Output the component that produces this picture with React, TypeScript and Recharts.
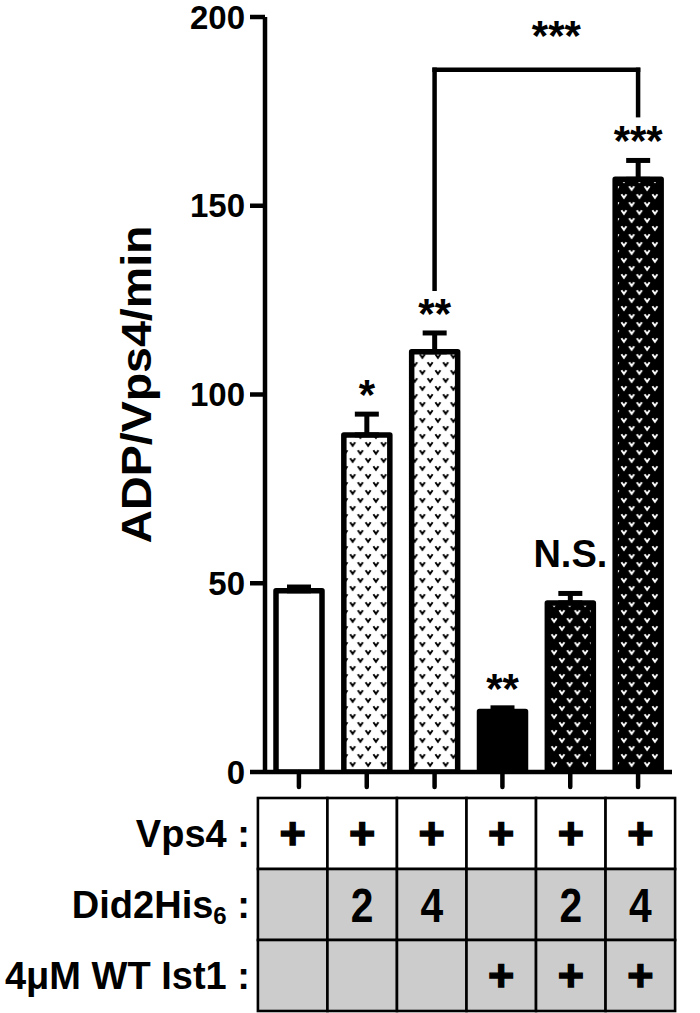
import React from 'react';
import { BarChart, Bar, XAxis, YAxis, ErrorBar, Cell, LabelList, ReferenceLine, Label } from 'recharts';

// ---------- data ----------
const categories = ['Vps4', 'Vps4+Did2 2', 'Vps4+Did2 4', 'Vps4+Ist1', 'Vps4+Ist1+Did2 2', 'Vps4+Ist1+Did2 4'];
const values = [48, 89.3, 111.3, 16, 44.8, 157];
const errors = [1, 5.5, 5, 1, 2.5, 5];
const sigLabels = ['', '*', '**', '**', 'N.S.', '***'];
const vps4Present = [true, true, true, true, true, true];
const did2Amount = [0, 2, 4, 0, 2, 4];
const ist1Present = [false, false, false, true, true, true];
const yTicks = [0, 50, 100, 150, 200];
const bracketFrom = categories[2];
const bracketTo = categories[5];
const bracketTop = 186;
const bracketLeftEnd = 128;
const bracketRightEnd = 174;
const bracketLabel = '***';

// ---------- layout / style ----------
const FONT = '"Liberation Sans", Arial, Helvetica, sans-serif';
const W = 700;
const H = 1013;
const MARGIN = { top: 17, right: 28, left: 0, bottom: 0 };
const YAXIS_W = 265;
const XAXIS_H = 241;
const PLOT_L = MARGIN.left + YAXIS_W;
const PLOT_R = W - MARGIN.right;
const PLOT_MID = (PLOT_L + PLOT_R) / 2;
const GRAY = '#cccccc';

const data = categories.map((c, i) => ({
  name: c,
  value: values[i],
  err: [0, errors[i]],
  sig: sigLabels[i],
}));

function barFill(i: number) {
  if (ist1Present[i]) return did2Amount[i] > 0 ? 'url(#dotsDark)' : '#000';
  return did2Amount[i] > 0 ? 'url(#dotsLight)' : '#fff';
}

function Mark({ x, y, color }: { x: number; y: number; color: string }) {
  return (
    <path
      d={`M${x - 2.5},${y - 1.8} L${x},${y + 1.8} L${x + 2.5},${y - 1.8}`}
      stroke={color}
      strokeWidth={1.9}
      fill="none"
    />
  );
}

function XTick(props: any) {
  const { x, y, index } = props;
  const band = (PLOT_R - PLOT_L) / categories.length;
  const scale = 1.025;
  const cellW = band * scale;
  const cx = PLOT_MID - 2 + (x - PLOT_MID) * scale;
  const left = cx - cellW / 2;
  const top = y + 26;
  const rowH = 71;
  const rowContents = [
    vps4Present[index] ? '+' : '',
    did2Amount[index] > 0 ? String(did2Amount[index]) : '',
    ist1Present[index] ? '+' : '',
  ];
  const rowFills = ['#fff', GRAY, GRAY];
  return (
    <g>
      <line x1={x} y1={y} x2={x} y2={y + 15} stroke="#000" strokeWidth={4.5} strokeLinecap="round" />
      {rowContents.map((txt, r) => {
        const cy = top + rowH * r + rowH / 2;
        return (
          <g key={r}>
            <rect x={left} y={top + rowH * r} width={cellW} height={rowH} fill={rowFills[r]} stroke="#000" strokeWidth={2.6} />
            {txt === '+' && (
              <text x={cx} y={cy + 15} textAnchor="middle" fontFamily={FONT} fontWeight="bold" fontSize={45} fill="#000" stroke="#000" strokeWidth={1.4}>
                +
              </text>
            )}
            {txt !== '+' && txt !== '' && (
              <text transform={`translate(${cx},${cy + 17}) scale(0.85,1)`} textAnchor="middle" fontFamily={FONT} fontWeight="bold" fontSize={48} fill="#000">
                {txt}
              </text>
            )}
          </g>
        );
      })}
      {index === 0 && (
        <g fontFamily={FONT} fontWeight="bold" fontSize={38} fill="#000" textAnchor="end">
          <text x={left - 8} y={top + rowH * 0.5 + 13}>Vps4 :</text>
          <text x={left - 8} y={top + rowH * 1.5 + 13}>
            <tspan>Did2His</tspan>
            <tspan fontSize={24} dy={6}>6</tspan>
            <tspan dy={-6}> :</tspan>
          </text>
          <text x={left - 8} y={top + rowH * 2.5 + 13}>4μM WT Ist1 :</text>
        </g>
      )}
    </g>
  );
}

function SigLabel(props: any) {
  const { x, y, width, height, index, value } = props;
  if (!value) return null;
  const pxPerUnit = Math.abs(height) / values[index];
  const errTop = y - errors[index] * pxPerUnit;
  const isStar = /^\*+$/.test(String(value));
  const fs = isStar ? 42 : 38;
  const base = isStar ? errTop - 5 : errTop - 26;
  return (
    <text x={x + width / 2} y={base} textAnchor="middle" fontFamily={FONT} fontWeight="bold" fontSize={fs} fill="#000">
      {value}
    </text>
  );
}

function YLabel(props: any) {
  const vb = props.viewBox || { x: 0, y: MARGIN.top, width: YAXIS_W, height: 755 };
  const x = vb.x + 151;
  const y = vb.y + vb.height / 2 - 10;
  return (
    <text
      x={x}
      y={y}
      transform={`rotate(-90, ${x}, ${y})`}
      textAnchor="middle"
      fontFamily={FONT}
      fontWeight="bold"
      fontSize={42}
      textLength={318}
      lengthAdjust="spacingAndGlyphs"
      fill="#000"
    >
      ADP/Vps4/min
    </text>
  );
}

function BracketLabel(props: any) {
  const vb = props.viewBox || { x: 0, y: 0, width: 0, height: 0 };
  return (
    <text x={vb.x + vb.width / 2 + 20} y={vb.y - 20} textAnchor="middle" fontFamily={FONT} fontWeight="bold" fontSize={42} fill="#000">
      {bracketLabel}
    </text>
  );
}

export default function App() {
  const patTile = { w: 15.5, h: 16 };
  return (
    <div style={{ width: W, height: H, background: '#fff' }}>
      <style>{`body{margin:0;background:#fff}`}</style>
      <BarChart width={W} height={H} data={data} margin={MARGIN} barSize={46}>
        <defs>
          <pattern id="dotsLight" patternUnits="userSpaceOnUse" width={patTile.w} height={patTile.h}>
            <rect width={patTile.w} height={patTile.h} fill="#fff" />
            <Mark x={3.9} y={4} color="#000" />
            <Mark x={11.65} y={12} color="#000" />
          </pattern>
          <pattern id="dotsDark" patternUnits="userSpaceOnUse" width={patTile.w} height={patTile.h}>
            <rect width={patTile.w} height={patTile.h} fill="#000" />
            <Mark x={3.9} y={4} color="#fff" />
            <Mark x={11.65} y={12} color="#fff" />
          </pattern>
        </defs>
        <XAxis
          dataKey="name"
          height={XAXIS_H}
          interval={0}
          tickSize={0}
          tickMargin={0}
          tickLine={false}
          axisLine={{ stroke: '#000', strokeWidth: 4.5 }}
          tick={<XTick />}
          padding={{ left: 0, right: 0 }}
        />
        <YAxis
          width={YAXIS_W}
          domain={[0, 200]}
          ticks={yTicks}
          interval={0}
          allowDataOverflow
          axisLine={{ stroke: '#000', strokeWidth: 4.5 }}
          tickLine={{ stroke: '#000', strokeWidth: 4.5 }}
          tickSize={15}
          tickMargin={5}
          tick={{ fill: '#000', fontSize: 33, fontWeight: 700, fontFamily: FONT }}
        >
          <Label content={<YLabel />} />
        </YAxis>
        <Bar dataKey="value" stroke="#000" strokeWidth={5.5} strokeLinejoin="round" isAnimationActive={false}>
          {data.map((d, i) => (
            <Cell key={d.name} fill={barFill(i)} />
          ))}
          <ErrorBar dataKey="err" width={12} stroke="#000" strokeWidth={5} isAnimationActive={false} />
          <LabelList dataKey="sig" content={<SigLabel />} />
        </Bar>
        <ReferenceLine
          segment={[{ x: bracketFrom, y: bracketTop }, { x: bracketTo, y: bracketTop }]}
          stroke="#000"
          strokeWidth={4.5}
          strokeLinecap="square"
          label={<BracketLabel />}
        />
        <ReferenceLine
          segment={[{ x: bracketFrom, y: bracketTop }, { x: bracketFrom, y: bracketLeftEnd }]}
          stroke="#000"
          strokeWidth={4.5}
          strokeLinecap="square"
        />
        <ReferenceLine
          segment={[{ x: bracketTo, y: bracketTop }, { x: bracketTo, y: bracketRightEnd }]}
          stroke="#000"
          strokeWidth={4.5}
          strokeLinecap="square"
        />
      </BarChart>
    </div>
  );
}
